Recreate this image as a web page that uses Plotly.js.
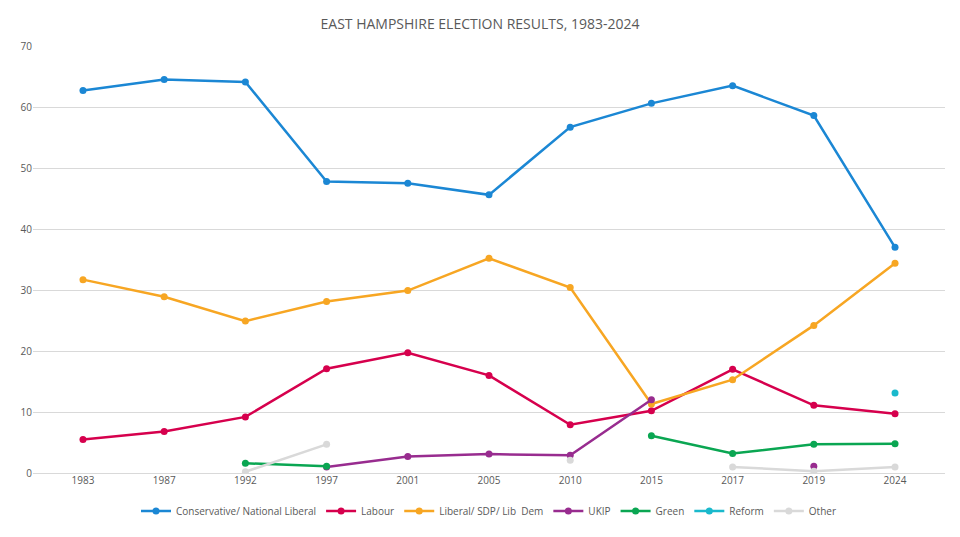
<!DOCTYPE html>
<html>
<head>
<meta charset="utf-8">
<script src="https://cdn.plot.ly/plotly-3.0.1.min.js"></script>
<style>body{margin:0;background:#fff}#chart{width:960px;height:537px}</style>
</head>
<body>
<div id="chart"></div>
<script>
var years = ['1983','1987','1992','1997','2001','2005','2010','2015','2017','2019','2024'];
var conservative = [62.7, 64.5, 64.1, 47.8, 47.5, 45.6, 56.7, 60.6, 63.5, 58.6, 37.0];
var labour = [5.5, 6.8, 9.2, 17.1, 19.7, 16.0, 7.9, 10.2, 17.0, 11.1, 9.7];
var libdem = [31.7, 28.9, 24.9, 28.1, 29.9, 35.2, 30.4, 11.3, 15.3, 24.2, 34.4];
var ukip = [null, null, null, 1.0, 2.7, 3.1, 2.9, 12.0, null, 1.1, null];
var green = [null, null, 1.6, 1.1, null, null, null, 6.1, 3.2, 4.7, 4.8];
var reform = [null, null, null, null, null, null, null, null, null, null, 13.1];
var other = [null, null, 0.2, 4.7, null, null, 2.1, null, 1.0, 0.3, 1.0];

var names = ['Conservative/ National Liberal', 'Labour', 'Liberal/ SDP/ Lib  Dem', 'UKIP', 'Green', 'Reform', 'Other'];
var series = [conservative, labour, libdem, ukip, green, reform, other];
var colors = ['#1b87d4', '#d6004d', '#f7a623', '#982c8f', '#0aa652', '#1ab9cc', '#d9d9d9'];

var traces = series.map(function (s, i) {
  return {
    x: years, y: s, name: names[i], type: 'scatter', mode: 'lines+markers',
    connectgaps: false,
    line: {color: colors[i], width: 2.5},
    marker: {color: colors[i], size: 7}
  };
});

var layout = {
  width: 960, height: 537,
  margin: {l: 33, r: 15, t: 46, b: 58},
  paper_bgcolor: '#fff', plot_bgcolor: '#fff',
  font: {family: 'Open Sans, sans-serif', color: '#595959', size: 10},
  title: {text: 'EAST HAMPSHIRE ELECTION RESULTS, 1983-2024', x: 0.5, y: 0.965, font: {size: 14, color: '#595959'}},
  xaxis: {type: 'category', showgrid: false, zeroline: false, ticks: '', showline: false, tickfont: {color: '#595959'}},
  yaxis: {range: [0, 70], dtick: 10, gridcolor: '#d9d9d9', zeroline: true, zerolinecolor: '#d9d9d9', fixedrange: true, tickfont: {color: '#595959'}},
  legend: {orientation: 'h', x: 0.5, xanchor: 'center', y: -0.055, yanchor: 'top', font: {size: 10}},
  showlegend: true
};

Plotly.newPlot('chart', traces, layout, {displayModeBar: false});
</script>
</body>
</html>
